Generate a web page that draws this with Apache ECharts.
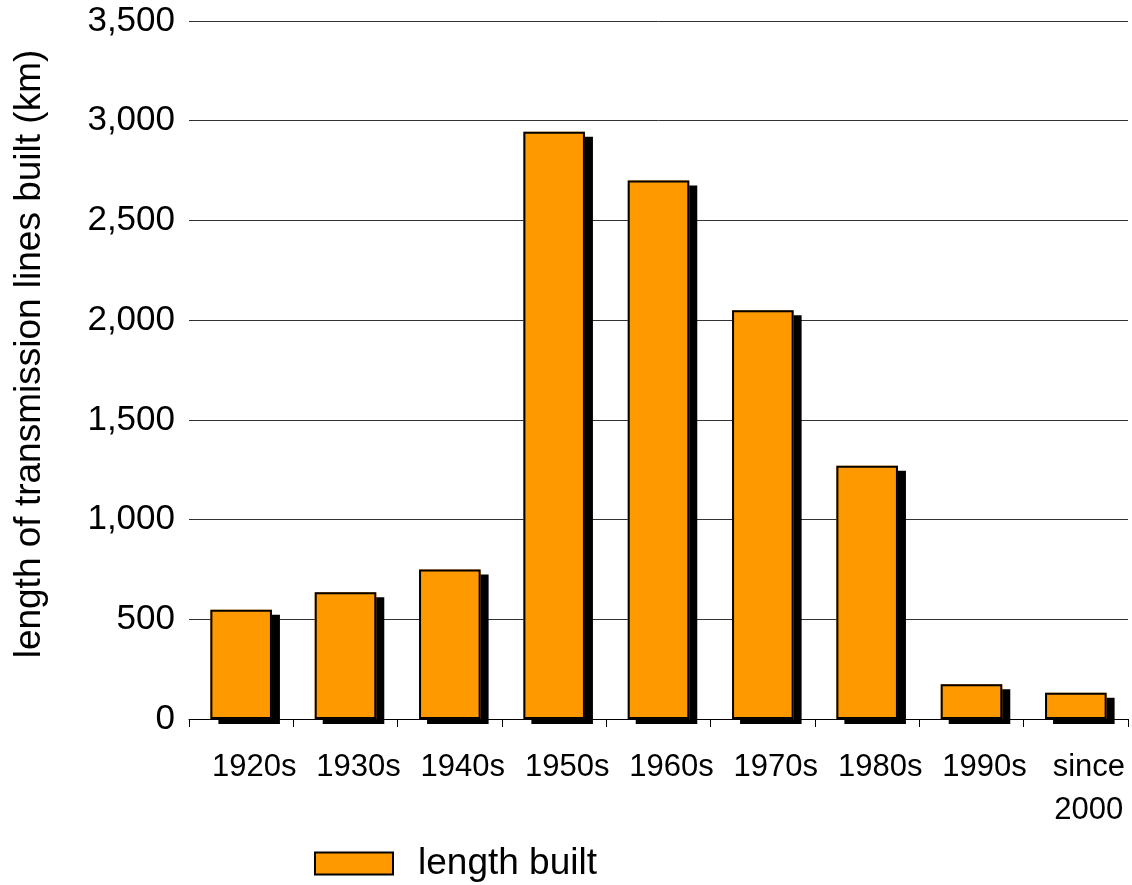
<!DOCTYPE html>
<html>
<head>
<meta charset="utf-8">
<script src="https://cdn.jsdelivr.net/npm/echarts@6/dist/echarts.min.js"></script>
<style>
  html, body { margin: 0; padding: 0; background: #fff; }
  #chart { width: 1132px; height: 885px; }
</style>
</head>
<body>
<div id="chart"></div>
<script>
  // data
  const categories = ['1920s', '1930s', '1940s', '1950s', '1960s', '1970s', '1980s', '1990s', 'since\n2000']
  const lengthBuilt = [548, 635, 750, 2945, 2700, 2050, 1270, 174, 132]
  const seriesName = 'length built'

  let myChart = echarts.init(document.getElementById('chart'))
  let font = 'Liberation Sans, Arial, sans-serif'

  myChart.setOption({
    animation: false,
    grid: { left: 189, right: 4, top: 21, bottom: 166, containLabel: false, outerBoundsMode: 'none' },
    legend: {
      top: 845,
      left: 314,
      padding: 0,
      icon: 'rect',
      itemWidth: 78,
      itemHeight: 22,
      itemGap: 10,
      itemStyle: { borderColor: '#000', borderWidth: 2 },
      textStyle: { fontSize: 37, color: '#000', fontFamily: font, padding: [0, 0, 0, 20] },
      data: [seriesName]
    },
    xAxis: {
      type: 'category',
      data: categories,
      axisLine: { lineStyle: { color: '#000', width: 1 } },
      axisTick: { show: true, length: 8, lineStyle: { color: '#000' } },
      axisLabel: {
        interval: 0,
        fontSize: 31,
        color: '#000',
        fontFamily: font,
        margin: 27,
        lineHeight: 43,
        align: 'center',
        padding: [0, 0, 0, 26]
      }
    },
    yAxis: {
      type: 'value',
      min: 0,
      max: 3500,
      interval: 500,
      name: 'length of transmission lines built (km)',
      nameLocation: 'middle',
      nameGap: 141,
      nameTextStyle: { fontSize: 37, color: '#000', fontFamily: font, padding: [0, 0, 0, 32] },
      axisLine: { show: false },
      axisTick: { show: false },
      axisLabel: {
        fontSize: 35,
        color: '#000',
        fontFamily: font,
        margin: 14,
        formatter: v => v.toLocaleString('en-US')
      },
      splitLine: { lineStyle: { color: '#333', width: 1 } }
    },
    series: [
      {
        // fill only, carries the black drop shadow
        name: 'shadow',
        type: 'bar',
        barWidth: '59%',
        barGap: '-100%',
        data: lengthBuilt,
        silent: true,
        itemStyle: {
          color: '#ff9900',
          borderWidth: 0,
          shadowColor: '#000',
          shadowBlur: 0,
          shadowOffsetX: 8,
          shadowOffsetY: 5
        }
      },
      {
        name: seriesName,
        type: 'bar',
        barWidth: '59%',
        barGap: '-100%',
        data: lengthBuilt,
        z: 3,
        itemStyle: {
          color: '#ff9900',
          borderColor: '#000',
          borderWidth: 2
        }
      }
    ]
  })
</script>
</body>
</html>
